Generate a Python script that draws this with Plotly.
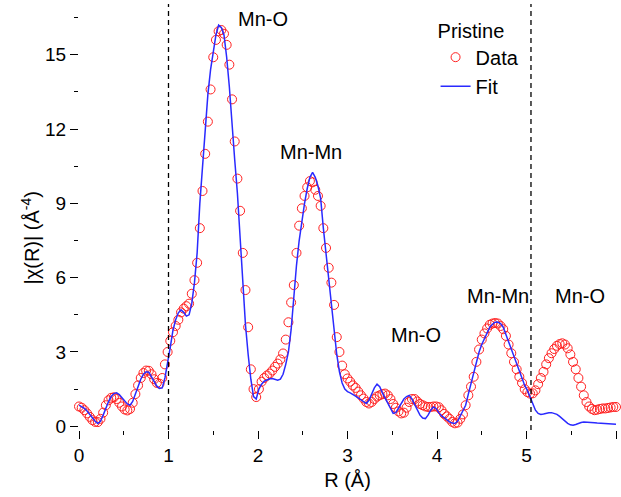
import numpy as np
import plotly.graph_objects as go

# R grid (Å)
R = np.round(np.arange(201) * 0.03, 2)

data_chi = [
    0.80, 0.75, 0.65, 0.52, 0.38, 0.25, 0.18, 0.17, 0.30, 0.55,
    0.85, 1.05, 1.15, 1.17, 1.10, 0.95, 0.80, 0.68, 0.64, 0.70,
    0.95, 1.30, 1.65, 1.95, 2.15, 2.25, 2.24, 2.10, 1.90, 1.75,
    1.72, 1.95, 2.50, 3.00, 3.45, 3.80, 4.05, 4.30, 4.60, 4.75,
    4.85, 4.95, 5.35, 5.90, 6.60, 8.00, 9.50, 11.00, 12.30, 13.60,
    14.90, 15.60, 15.95, 16.00, 15.85, 15.40, 14.60, 13.20, 11.50, 10.00,
    8.70, 7.00, 5.50, 4.00, 2.30, 1.50, 1.18, 1.50, 1.80, 1.95,
    2.05, 2.13, 2.25, 2.40, 2.53, 2.70, 2.94, 3.50, 4.20, 5.00,
    5.70, 7.00, 8.10, 8.80, 9.30, 9.65, 9.90, 9.85, 9.55, 9.30,
    8.90, 8.00, 7.20, 6.40, 5.80, 4.90, 3.60, 3.00, 2.45, 2.10,
    1.93, 1.80, 1.65, 1.55, 1.40, 1.25, 1.12, 0.98, 0.92, 0.98,
    1.10, 1.20, 1.25, 1.30, 1.32, 1.25, 1.10, 0.90, 0.75, 0.60,
    0.52, 0.55, 0.75, 0.98, 1.10, 1.10, 1.00, 0.90, 0.85, 0.80,
    0.78, 0.78, 0.80, 0.80, 0.77, 0.65, 0.50, 0.40, 0.30, 0.18,
    0.12, 0.15, 0.30, 0.48, 0.85, 1.25, 1.60, 2.00, 2.60, 3.10,
    3.50, 3.75, 3.95, 4.10, 4.15, 4.17, 4.15, 4.05, 3.92, 3.65,
    3.30, 2.95, 2.60, 2.30, 2.00, 1.75, 1.50, 1.38, 1.32, 1.33,
    1.45, 1.70, 1.95, 2.20, 2.50, 2.75, 2.95, 3.12, 3.25, 3.32,
    3.35, 3.30, 3.15, 2.90, 2.60, 2.30, 1.95, 1.60, 1.25, 0.98,
    0.80, 0.70, 0.65, 0.67, 0.70, 0.72, 0.72, 0.74, 0.76, 0.78,
    0.78,
]

fit_chi = [
    0.85, 0.80, 0.72, 0.62, 0.48, 0.34, 0.20, 0.11, 0.20, 0.45,
    0.75, 1.00, 1.20, 1.32, 1.35, 1.28, 1.15, 1.00, 0.90, 0.85,
    1.00, 1.30, 1.60, 1.90, 2.10, 2.20, 2.18, 2.00, 1.80, 1.62,
    1.53, 1.55, 1.95, 2.50, 3.20, 3.88, 4.30, 4.58, 4.70, 4.60,
    4.45, 4.50, 4.95, 5.80, 7.00, 9.00, 10.60, 12.00, 13.40, 14.40,
    15.20, 15.80, 16.20, 16.10, 15.80, 14.90, 13.70, 12.10, 10.75, 9.40,
    7.70, 6.10, 4.10, 2.90, 1.90, 1.20, 1.10, 1.50, 1.70, 1.82,
    1.88, 1.92, 1.93, 1.90, 1.86, 1.90, 2.10, 2.50, 3.00, 3.90,
    5.40, 6.50, 7.50, 8.30, 9.00, 9.60, 10.05, 10.25, 10.05, 9.70,
    9.20, 8.00, 7.00, 6.00, 5.00, 4.00, 2.90, 2.20, 1.75, 1.50,
    1.40, 1.35, 1.30, 1.22, 1.15, 1.08, 1.00, 0.92, 1.05, 1.30,
    1.55, 1.70, 1.60, 1.35, 1.15, 0.95, 0.70, 0.52, 0.55, 0.75,
    0.95, 1.10, 1.20, 1.25, 1.10, 0.90, 0.65, 0.45, 0.33, 0.31,
    0.45, 0.65, 0.78, 0.72, 0.55, 0.42, 0.35, 0.25, 0.18, 0.13,
    0.11, 0.20, 0.40, 0.60, 0.85, 1.30, 1.75, 2.20, 2.60, 3.00,
    3.30, 3.55, 3.80, 4.00, 4.12, 4.20, 4.21, 4.15, 4.00, 3.70,
    3.47, 3.15, 2.85, 2.55, 2.26, 1.95, 1.65, 1.45, 1.20, 0.92,
    0.65, 0.52, 0.48, 0.50, 0.53, 0.55, 0.55, 0.52, 0.48, 0.40,
    0.30, 0.20, 0.12, 0.06, 0.04, 0.07, 0.12, 0.15, 0.17, 0.17,
    0.16, 0.15, 0.14, 0.13, 0.12, 0.12, 0.11, 0.10, 0.10, 0.09,
    0.08,
]

assert len(data_chi) == len(R) == len(fit_chi)

# shell labels
label_text = ["Mn-O", "Mn-Mn", "Mn-O", "Mn-Mn", "Mn-O"]
label_x = [2.06, 2.59, 3.77, 4.68, 5.60]
label_y = [16.45, 11.07, 3.70, 5.25, 5.25]

window_lines = [1.0, 5.05]

FONT = "Liberation Sans, Arial, sans-serif"

fig = go.Figure()
fig.add_trace(go.Scatter(
    x=R, y=data_chi, mode="markers", name="Data",
    marker=dict(symbol="circle-open", size=9, color="#ff2020",
                line=dict(width=1, color="#ff2020")),
    cliponaxis=False,
))
fig.add_trace(go.Scatter(
    x=R, y=fit_chi, mode="lines", name="Fit",
    line=dict(color="#2a2aff", width=1.5),
    cliponaxis=False,
))

for xv in window_lines:
    fig.add_shape(type="line", x0=xv, x1=xv, y0=0, y1=1, xref="x", yref="paper",
                  line=dict(color="black", width=1.3, dash="5px,4px"))

for t, xv, yv in zip(label_text, label_x, label_y):
    fig.add_annotation(x=xv, y=yv, text=t, showarrow=False,
                       font=dict(size=20, color="black", family=FONT))

fig.add_annotation(x=-0.118, y=0.45, xref="paper", yref="paper",
                   text="|χ(R)| (Å<sup>-4</sup>)", textangle=-90, showarrow=False,
                   font=dict(size=20, color="black", family=FONT))

fig.update_layout(
    width=621, height=497,
    margin=dict(l=79, r=5, t=4, b=67),
    paper_bgcolor="white", plot_bgcolor="white",
    font=dict(family=FONT, size=19, color="black"),
    showlegend=True,
    legend=dict(
        x=0.664, y=0.982, xanchor="left", yanchor="top",
        bgcolor="rgba(0,0,0,0)", borderwidth=0,
        font=dict(size=20, family=FONT),
        title=dict(text="Pristine", font=dict(size=20, family=FONT)),
        tracegroupgap=0,
    ),
    xaxis=dict(
        range=[0, 6], showline=False, showgrid=False, zeroline=False,
        ticks="outside", ticklen=8, tickwidth=1, tickcolor="black",
        dtick=1, tick0=0,
        minor=dict(ticks="outside", ticklen=4, dtick=0.5, tickcolor="black", showgrid=False),
        title=dict(text="R (Å)", font=dict(size=20, family=FONT), standoff=8),
        tickfont=dict(size=19, family=FONT),
    ),
    yaxis=dict(
        range=[-0.15, 17.05], showline=False, showgrid=False, zeroline=False,
        ticks="outside", ticklen=8, tickwidth=1, tickcolor="black",
        dtick=3, tick0=0,
        minor=dict(ticks="outside", ticklen=4, dtick=1.5, tickcolor="black", showgrid=False),
        tickfont=dict(size=19, family=FONT),
    ),
)

fig.write_html("out.html")
